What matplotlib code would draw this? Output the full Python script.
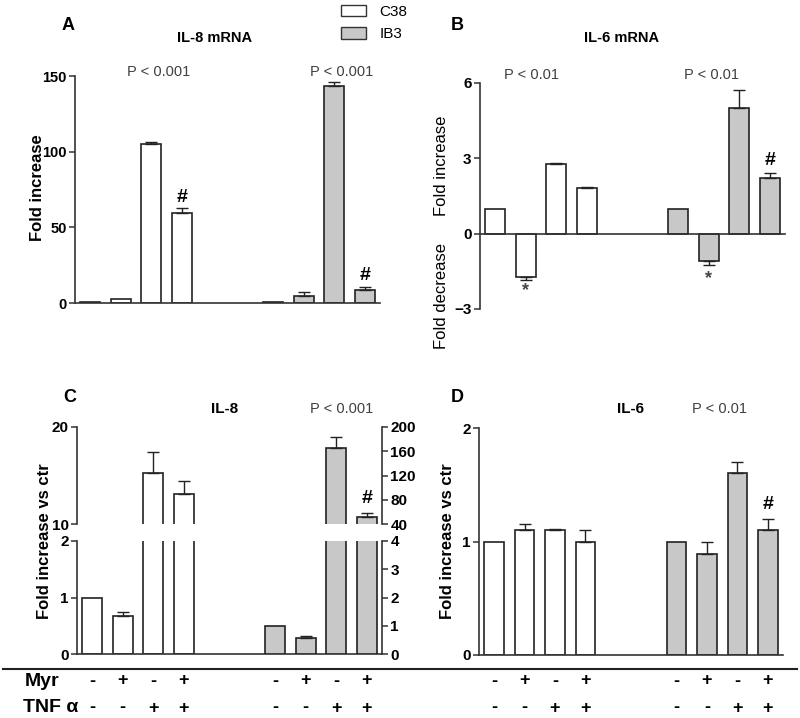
import numpy as np
import matplotlib.pyplot as plt
from matplotlib.patches import Patch
from matplotlib.lines import Line2D
from matplotlib.transforms import blended_transform_factory

plt.rcParams['font.family'] = ['Liberation Sans', 'DejaVu Sans']

W, H = 800, 718

pos_c38 = [0, 1, 2, 3]
pos_ib3 = [6, 7, 8, 9]
myr = ['-', '+', '-', '+', '-', '+', '-', '+']
tnf = ['-', '-', '+', '+', '-', '-', '+', '+']

# A: IL-8 mRNA
a_c38 = [0.5, 2.6, 105, 59.5]
a_c38_err = [0, 0, 1.5, 3.2]
a_ib3 = [0.5, 4.6, 143.4, 8.6]
a_ib3_err = [0, 2.9, 2.6, 2.2]

# B: IL-6 mRNA
b_c38 = [1.0, -1.73, 2.76, 1.83]
b_c38_err = [0, 0.11, 0.07, 0.03]
b_ib3 = [1.0, -1.1, 4.99, 2.23]
b_ib3_err = [0, 0.14, 0.74, 0.2]

# C: IL-8 (C38 on left axis, IB3 on right axis)
c_c38 = [1.0, 0.67, 15.3, 13.1]
c_c38_err = [0, 0.08, 2.1, 1.3]
c_ib3 = [1.0, 0.55, 165, 51]
c_ib3_err = [0, 0.09, 18, 6.6]

# D: IL-6
d_c38 = [1.0, 1.1, 1.1, 1.0]
d_c38_err = [0, 0.05, 0.01, 0.1]
d_ib3 = [1.0, 0.89, 1.6, 1.1]
d_ib3_err = [0, 0.11, 0.1, 0.1]

WHITE = 'white'
GRAY = '#c8c8c8'
EDGE = '#222222'

fig = plt.figure(figsize=(8, 7.18), dpi=100)


def px_axes(x0, y0, x1, y1):
    return fig.add_axes([x0 / W, 1 - y1 / H, (x1 - x0) / W, (y1 - y0) / H])


def ftext(x, y, s, **kw):
    fig.text(x / W, 1 - y / H, s, ha='center', va='center', **kw)


def bars(ax, pos, vals, errs, color):
    pos = np.array(pos)
    vals = np.array(vals, dtype=float)
    errs = np.array(errs, dtype=float)
    ax.bar(pos, vals, width=0.65, color=color, edgecolor=EDGE, linewidth=1.2, zorder=2)
    lo = np.where(vals < 0, errs, 0)
    hi = np.where(vals >= 0, errs, 0)
    m = errs > 0
    ax.errorbar(pos[m], vals[m], yerr=[lo[m], hi[m]], fmt='none', ecolor=EDGE,
                elinewidth=1, capsize=4, capthick=1, zorder=3)


def style(ax, left=True, right=False, bottom=True, size=11):
    ax.spines['top'].set_visible(False)
    ax.spines['left'].set_visible(left)
    ax.spines['right'].set_visible(right)
    ax.spines['bottom'].set_visible(bottom)
    for s in ax.spines.values():
        s.set_color('#333333')
        s.set_linewidth(1.2)
    ax.tick_params(axis='y', direction='out', length=4, width=1.1, color='#333333',
                   labelsize=size, labelcolor='black', pad=2)
    ax.tick_params(axis='x', length=0, labelbottom=False)
    ax.set_xlim(-0.5, 9.5)
    ax.patch.set_alpha(0)


def mark(ax, x, y, s, dy, size=14, color='black'):
    ax.annotate(s, (x, y), xytext=(0, dy), textcoords='offset points',
                ha='center', va='center', fontsize=size, fontweight='bold',
                color=color, annotation_clip=False)


# ---- A ----
axA = px_axes(75, 76, 380, 303)
bars(axA, pos_c38, a_c38, a_c38_err, WHITE)
bars(axA, pos_ib3, a_ib3, a_ib3_err, GRAY)
axA.set_ylim(0, 150)
axA.set_yticks([0, 50, 100, 150])
style(axA, size=10.5)
mark(axA, 3, a_c38[3] + a_c38_err[3], '#', 8)
mark(axA, 9, a_ib3[3] + a_ib3_err[3], '#', 8)

# ---- B ----
axB = px_axes(480, 83, 785, 309)
bars(axB, pos_c38, b_c38, b_c38_err, WHITE)
bars(axB, pos_ib3, b_ib3, b_ib3_err, GRAY)
axB.set_ylim(-3, 6)
axB.set_yticks([-3, 0, 3, 6])
style(axB)
axB.spines['bottom'].set_position(('data', 0))
mark(axB, 9, b_ib3[3] + b_ib3_err[3], '#', 9)
mark(axB, 1, b_c38[1] - b_c38_err[1], '*', -8, size=13, color='#444444')
mark(axB, 7, b_ib3[1] - b_ib3_err[1], '*', -10, size=13, color='#444444')

# ---- C (broken axes, right axis for IB3) ----
axCu = px_axes(77, 427, 382, 524)
axCl = px_axes(77, 541, 382, 654)
axCu2 = axCu.twinx()
axCl2 = axCl.twinx()
bars(axCu, pos_c38, c_c38, c_c38_err, WHITE)
bars(axCl, pos_c38, c_c38, c_c38_err, WHITE)
bars(axCu2, pos_ib3, c_ib3, c_ib3_err, GRAY)
bars(axCl2, pos_ib3, c_ib3, c_ib3_err, GRAY)
style(axCu, left=True, right=False, bottom=False)
style(axCl, left=True, right=False, bottom=True)
style(axCu2, left=False, right=True, bottom=False)
style(axCl2, left=False, right=True, bottom=False)
axCu.set_ylim(10, 20)
axCu.set_yticks([10, 20])
axCl.set_ylim(0, 2)
axCl.set_yticks([0, 1, 2])
axCu2.set_ylim(40, 200)
axCu2.set_yticks([40, 80, 120, 160, 200])
axCl2.set_ylim(0, 4)
axCl2.set_yticks([0, 1, 2, 3, 4])
mark(axCu2, 9, c_ib3[3] + c_ib3_err[3], '#', 11)

# ---- D ----
axD = px_axes(479, 428, 783, 655)
bars(axD, pos_c38, d_c38, d_c38_err, WHITE)
bars(axD, pos_ib3, d_ib3, d_ib3_err, GRAY)
axD.set_ylim(0, 2)
axD.set_yticks([0, 1, 2])
style(axD)
mark(axD, 9, d_ib3[3] + d_ib3_err[3], '#', 10)

# ---- texts ----
for ax in [axA, axB, axCu, axCl, axCu2, axCl2, axD]:
    for lbl in ax.get_yticklabels():
        lbl.set_fontweight('bold')

ftext(68, 25, 'A', fontsize=13, fontweight='bold')
ftext(457, 25, 'B', fontsize=13, fontweight='bold')
ftext(70, 397, 'C', fontsize=13, fontweight='bold')
ftext(457, 397, 'D', fontsize=13, fontweight='bold')

ftext(215, 38, 'IL-8 mRNA', fontsize=10.5, fontweight='bold')
ftext(622, 38, 'IL-6 mRNA', fontsize=10.5, fontweight='bold')
ftext(225, 409, 'IL-8', fontsize=11, fontweight='bold')
ftext(630, 409, 'IL-6', fontsize=11, fontweight='bold')

pcol = '#404040'
ftext(159, 72, 'P < 0.001', fontsize=10.5, color=pcol)
ftext(342, 72, 'P < 0.001', fontsize=10.5, color=pcol)
ftext(532, 75, 'P < 0.01', fontsize=10.5, color=pcol)
ftext(712, 75, 'P < 0.01', fontsize=10.5, color=pcol)
ftext(342, 409, 'P < 0.001', fontsize=10.5, color=pcol)
ftext(720, 409, 'P < 0.01', fontsize=10.5, color=pcol)

ftext(37, 188, 'Fold increase', fontsize=12, fontweight='bold', rotation=90)
ftext(442, 166, 'Fold increase', fontsize=12, rotation=90)
ftext(442, 296, 'Fold decrease', fontsize=12, rotation=90)
ftext(45, 541, 'Fold increase vs ctr', fontsize=12, fontweight='bold', rotation=90)
ftext(447, 541, 'Fold increase vs ctr', fontsize=12, fontweight='bold', rotation=90)

# treatment rows
ftext(42, 681, 'Myr', fontsize=14, fontweight='bold')
ftext(51, 708, 'TNF α', fontsize=14, fontweight='bold')
for ax in [axCl, axD]:
    tr = blended_transform_factory(ax.transData, fig.transFigure)
    for p, m_, t_ in zip(pos_c38 + pos_ib3, myr, tnf):
        ax.text(p, 1 - 681 / H, m_, transform=tr, ha='center', va='center',
                fontsize=13, fontweight='bold')
        ax.text(p, 1 - 708 / H, t_, transform=tr, ha='center', va='center',
                fontsize=13, fontweight='bold')

fig.add_artist(Line2D([3 / W, 797 / W], [1 - 668.5 / H] * 2, color='#222222', lw=1.5))

handles = [Patch(facecolor=WHITE, edgecolor='#333333', label='C38'),
           Patch(facecolor=GRAY, edgecolor='#333333', label='IB3')]
fig.legend(handles=handles, loc='upper left', bbox_to_anchor=(339 / W, 1 - 3 / H),
           frameon=False, fontsize=11, handlelength=1.65, handleheight=0.8,
           handletextpad=0.9, labelspacing=0.56, borderpad=0.1, borderaxespad=0)

fig.savefig('out.png', dpi=100)
